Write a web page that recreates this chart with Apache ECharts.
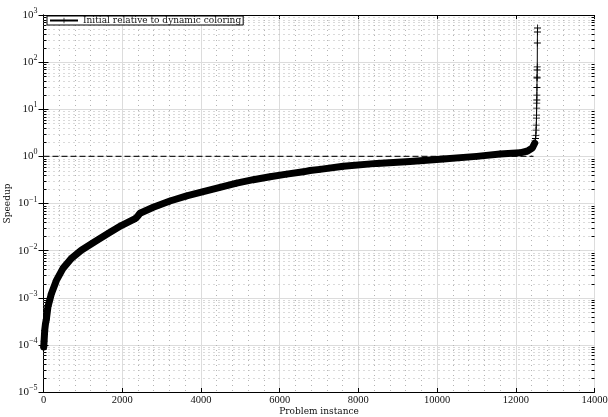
<!DOCTYPE html>
<html>
<head>
<meta charset="utf-8">
<script src="https://cdn.jsdelivr.net/npm/echarts@6/dist/echarts.min.js"></script>
<style>html,body{margin:0;background:#fff}#chart{width:608px;height:417px}</style>
</head>
<body>
<div id="chart"></div>
<script>
// problem instance index (sorted by speedup) and the speedup
var instances = [5, 15, 30, 50, 71, 114, 198, 325, 495, 706, 960, 1301, 1639, 1977, 2317,
  2380, 2420, 2452, 2790, 3214, 3639, 4060, 4485, 4909, 5331, 5755, 6180, 6601, 6772, 7025,
  7618, 8467, 9313, 10159, 11007, 11600, 12110, 12300, 12420, 12480, 12500, 12510, 12515,
  12520, 12525, 12528, 12530, 12532, 12534, 12536, 12538, 12540, 12542, 12544, 12546,
  12548, 12550, 12552];
var speedups = [9e-5, 1.2e-4, 2.0e-4, 2.8e-4, 3.4e-4, 6.5e-4, 1.2e-3, 2.3e-3, 4.2e-3, 6.8e-3,
  0.0102, 0.0154, 0.023, 0.034, 0.047, 0.052, 0.057, 0.062, 0.083, 0.113, 0.145, 0.178, 0.22,
  0.27, 0.32, 0.37, 0.42, 0.47, 0.50, 0.53, 0.62, 0.71, 0.78, 0.88, 1.0, 1.12, 1.19, 1.3, 1.5,
  1.9, 2.4, 2.8, 3.6, 4.6, 6.5, 7.5, 10.6, 13.5, 15.7, 20, 29, 46, 48, 68, 79, 255, 436, 530];
var bandEnd = 40; // dense part of the curve (markers merge into a thick band)
var baselineX = [0, 12450];
var baselineY = [1, 1];
var xMin = 0, xMax = 14000, xStep = 2000;
var yMin = 1e-5, yMax = 1e3;
var seriesName = 'Initial relative to dynamic coloring';

var font = '"Liberation Serif", "DejaVu Serif", serif';
var wideFont = '"DejaVu Serif", serif';
var plus = 'path://M4.4,0h1.2v10h-1.2z M0,4.4h10v1.2h-10z';

var points = instances.map(function (x, i) { return [x, speedups[i]]; });
var bandPoints = points.slice(0, bandEnd);
var baseline = baselineX.map(function (x, i) { return [x, baselineY[i]]; });

var minorVals = [];
for (var e = Math.log10(yMin); e < Math.log10(yMax); e++) {
  for (var k = 2; k <= 9; k++) minorVals.push([0, k * Math.pow(10, e)]);
}

function expLabel(v) {
  var p = Math.round(Math.log10(v));
  return '{b|10}{e|' + String(p).replace('-', '\u2212') + '}';
}

var chart = echarts.init(document.getElementById('chart'));
chart.setOption({
  animation: false,
  backgroundColor: '#fff',
  grid: { left: 43.5, right: 13.5, top: 15, bottom: 25, containLabel: false, outerBoundsMode: 'none' },
  legend: {
    data: [seriesName],
    left: 47, top: 16,
    itemWidth: 28, itemHeight: 7, itemGap: 4,
    padding: [0, 2, 0, 2],
    borderColor: '#000', borderWidth: 1, borderRadius: 0,
    backgroundColor: '#fff',
    textStyle: { fontFamily: wideFont, fontSize: 9, color: '#111', padding: [1, 0, 0, 0] }
  },
  xAxis: [{
    type: 'value', min: xMin, max: xMax, interval: xStep,
    name: 'Problem instance', nameLocation: 'middle', nameGap: 15, nameMoveOverlap: false,
    nameTextStyle: { fontFamily: wideFont, fontSize: 9, color: '#111' },
    axisLine: { lineStyle: { color: '#000', width: 1 } },
    axisTick: { inside: true, length: 4, lineStyle: { color: '#000' } },
    axisLabel: { fontFamily: font, fontSize: 10.5, color: '#111', margin: 3,
      formatter: function (v) { return String(v); } },
    splitLine: { show: true, lineStyle: { color: '#dcdcdc', width: 1 } },
    minorTick: { show: false, splitNumber: 5 },
    minorSplitLine: { show: true, lineStyle: { color: '#b4b4b4', type: [1, 4] } }
  }, {
    type: 'value', position: 'top', min: xMin, max: xMax, interval: xStep,
    axisLine: { show: true, lineStyle: { color: '#000', width: 1 } },
    axisTick: { inside: true, length: 4, lineStyle: { color: '#000' } },
    axisLabel: { show: false }, splitLine: { show: false }
  }],
  yAxis: [{
    type: 'log', logBase: 10, min: yMin, max: yMax,
    name: 'Speedup', nameLocation: 'middle', nameGap: 31, nameMoveOverlap: false,
    nameTextStyle: { fontFamily: wideFont, fontSize: 9, color: '#111' },
    axisLine: { show: true, lineStyle: { color: '#000', width: 1 } },
    axisTick: { inside: true, length: 5, lineStyle: { color: '#000' } },
    axisLabel: {
      formatter: expLabel, margin: 6,
      rich: {
        b: { fontFamily: font, fontSize: 11, color: '#111', lineHeight: 16 },
        e: { fontFamily: font, fontSize: 8, color: '#111', verticalAlign: 'top' }
      }
    },
    splitLine: { show: true, lineStyle: { color: '#dcdcdc', width: 1 } }
  }, {
    type: 'log', logBase: 10, min: yMin, max: yMax, position: 'right',
    axisLine: { show: true, lineStyle: { color: '#000', width: 1 } },
    axisTick: { inside: true, length: 5, lineStyle: { color: '#000' } },
    axisLabel: { show: false }, splitLine: { show: false }
  }],
  series: [{
    // minor log grid and minor ticks on both sides
    type: 'custom', silent: true, z: 1,
    data: minorVals,
    renderItem: function (params, api) {
      var y = Math.round(api.coord([0, api.value(1)])[1]) + 0.5;
      var cs = params.coordSys;
      var x0 = cs.x, x1 = cs.x + cs.width;
      return { type: 'group', children: [
        { type: 'line', shape: { x1: x0, y1: y, x2: x1, y2: y },
          style: { stroke: '#b4b4b4', lineWidth: 1, lineDash: [1, 4] } },
        { type: 'line', shape: { x1: x0, y1: y, x2: x0 + 3, y2: y },
          style: { stroke: '#000', lineWidth: 1 } },
        { type: 'line', shape: { x1: x1 - 3, y1: y, x2: x1, y2: y },
          style: { stroke: '#000', lineWidth: 1 } }
      ] };
    }
  }, {
    name: 'baseline', type: 'line', silent: true, z: 3,
    data: baseline, symbol: 'none',
    lineStyle: { color: '#222', width: 1.3, type: [6, 3] }
  }, {
    name: 'band', type: 'line', silent: true, z: 4,
    data: bandPoints, symbol: 'none',
    lineStyle: { color: '#000', width: 7, join: 'round', cap: 'round' }
  }, {
    name: seriesName, type: 'line', silent: true, z: 5,
    data: points, symbol: plus, symbolSize: 7, showAllSymbol: true,
    itemStyle: { color: '#000' },
    lineStyle: { color: '#000', width: 1 }
  }]
});
</script>
</body>
</html>
